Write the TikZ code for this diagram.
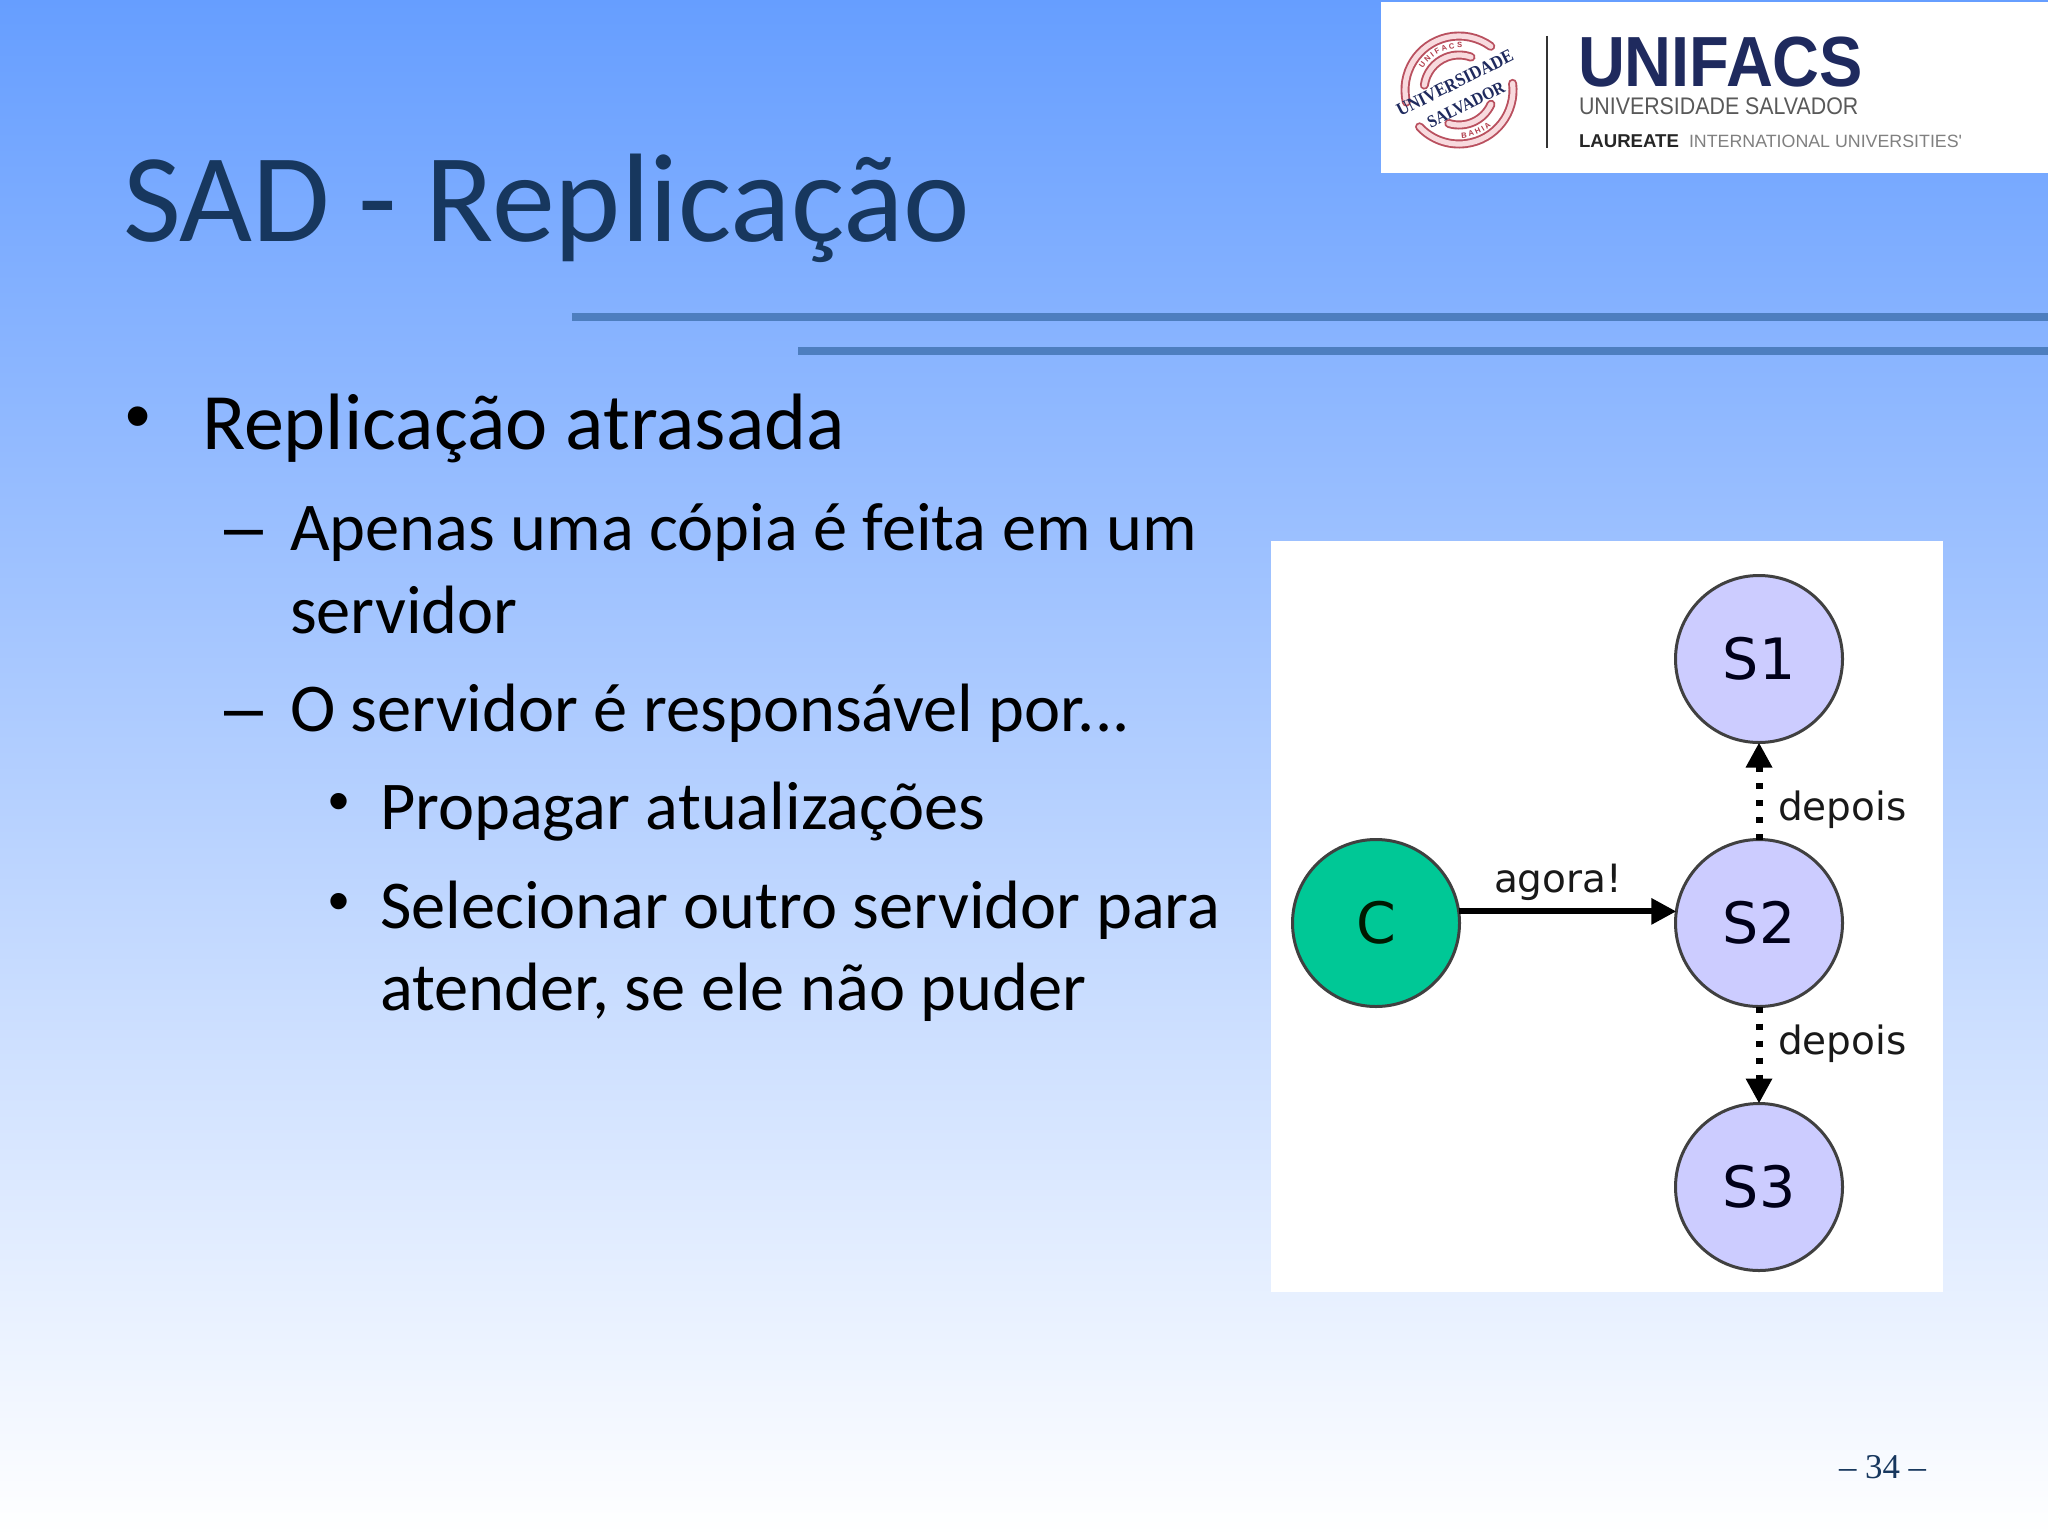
\documentclass[tikz,border=0pt]{standalone}
\usepackage{fontspec}
\usetikzlibrary{arrows.meta,decorations.text}
\setmainfont{Carlito}
\newfontfamily\dejavu{DejaVu Sans}
\newfontfamily\libsans{Liberation Sans}
\newfontfamily\libserif{Liberation Serif}
\newfontfamily\unif[FakeStretch=0.915]{Liberation Sans}
\newfontfamily\unisal[FakeStretch=0.89]{Liberation Sans}
\newfontfamily\sealf[FakeStretch=0.9]{Liberation Serif}
\definecolor{bgtop}{RGB}{102,158,255}
\definecolor{titleblue}{RGB}{23,55,94}
\definecolor{rulecol}{RGB}{77,126,191}
\definecolor{navy}{RGB}{31,42,94}
\definecolor{srvfill}{RGB}{204,204,255}
\definecolor{clifill}{RGB}{0,200,150}
\definecolor{ringred}{RGB}{185,80,95}
\definecolor{ringpink}{RGB}{248,218,222}
\definecolor{sealred}{RGB}{176,58,72}
\tikzset{
  txt/.style={anchor=base west,inner sep=0pt,outer sep=0pt},
  titletext/.style={txt,text=titleblue,font=\fontsize{63}{63}\selectfont},
  lone/.style={txt,text=black,font=\fontsize{40}{40}\selectfont},
  ltwo/.style={txt,text=black,font=\fontsize{34.2}{34.2}\selectfont},
  dashmark/.style={txt,text=black,font=\libsans\fontsize{35}{35}\selectfont},
  bullet/.style={txt,text=black,font=\libsans\fontsize{36}{36}\selectfont},
  bulletsmall/.style={txt,text=black,font=\libsans\fontsize{30}{30}\selectfont},
  rulebar/.style={fill=rulecol,draw=none},
  srv/.style={circle,draw=black!75,line width=1.5pt,fill=srvfill,minimum size=83.5pt,inner sep=0pt,outer sep=0pt,
     font=\dejavu\fontsize{28.5}{28.5}\selectfont,text=black!90!blue},
  cli/.style={srv,fill=clifill,text=black!90!green},
  lab/.style={txt,text=black!90,font=\dejavu\fontsize{19.5}{19.5}\selectfont},
  nowarrow/.style={line width=3pt,-{Triangle[length=12.5pt,width=12.5pt]}},
  lateraarrow/.style={line width=3.5pt,dash pattern=on 3pt off 5.5pt,-{Triangle[length=12.5pt,width=12.5pt]}},
  ring/.style={line cap=round,line width=4.5pt,draw=ringred,postaction={draw=ringpink,line width=2.6pt}},
  sealtxt/.style={inner sep=0pt,rotate=26.5,text=navy},
}
\begin{document}
\begin{tikzpicture}[x=0.5pt,y=-0.5pt]
\useasboundingbox (0,0) rectangle (2048,1536);
\shade[top color=bgtop,bottom color=white] (0,0) rectangle (2048,1536);
% logo
\fill[white] (1381,2) rectangle (2048,173);
\begin{scope}[shift={(1459,90)},y=0.5pt]
  \draw[ring] (193:54) arc[start angle=193,end angle=54,radius=54];
  \draw[ring] (7:54) arc[start angle=7,end angle=-137,radius=54];
  \draw[ring] (172:35) arc[start angle=172,end angle=70,radius=35];
  \draw[ring] (-24:35) arc[start angle=-24,end angle=-107,radius=35];
  \path[decorate,decoration={text along path,text align=center,
     text={|\libsans\bfseries\fontsize{3.8}{3.8}\selectfont\color{sealred}|U N I F A C S}}]
     (160:42) arc[start angle=160,end angle=75,radius=42];
  \path[decorate,decoration={text along path,text align=center,
     text={|\libsans\bfseries\fontsize{3.8}{3.8}\selectfont\color{sealred}|B A H I A}}]
     (-100:48) arc[start angle=-100,end angle=-35,radius=48];
  \node[sealtxt,font=\sealf\bfseries\fontsize{9.2}{9.2}\selectfont] (sealone) at (-4,7) {UNIVERSIDADE};
  \node[sealtxt,font=\sealf\bfseries\fontsize{8.7}{8.7}\selectfont] (sealtwo) at (7,-15) {SALVADOR};
\end{scope}
\draw[black!80,line width=1pt] (1547,36) -- (1547,148);
\node[txt,text=navy,font=\unif\bfseries\fontsize{35.5}{35.5}\selectfont] (unifacs) at (1578,87) {UNIFACS};
\node[txt,text=black!65,font=\unisal\fontsize{12}{12}\selectfont] (unisal) at (1579,114) {UNIVERSIDADE SALVADOR};
\node[txt,text=black!85,font=\libsans\bfseries\fontsize{9.3}{9.3}\selectfont] (laureate) at (1579,147.5) {LAUREATE};
\node[txt,text=black!50,font=\libsans\fontsize{8.9}{8.9}\selectfont] (intl) at (1689,147.5) {INTERNATIONAL UNIVERSITIES'};
% title and rules
\node[titletext] (title) at (123,241) {SAD - Replicação};
\fill[rulebar] (572,313) rectangle (2048,321);
\fill[rulebar] (798,347) rectangle (2048,355);
% body
\node[bullet] (b1) at (125,440) {•};
\node[lone] (t1) at (202,449.5) {Replicação atrasada};
\node[dashmark] (d1) at (224,550) {–};
\node[ltwo] (t2) at (290,550.5) {Apenas uma cópia é feita em um};
\node[ltwo] (t2b) at (290,633.5) {servidor};
\node[dashmark] (d2) at (224,731) {–};
\node[ltwo] (t3) at (290,731.5) {O servidor é responsável por...};
\node[bulletsmall] (b2) at (328,821) {•};
\node[ltwo] (t4) at (380,829.5) {Propagar atualizações};
\node[bulletsmall] (b3) at (328,921) {•};
\node[ltwo] (t5) at (380,928.5) {Selecionar outro servidor para};
\node[ltwo] (t5b) at (380,1010.5) {atender, se ele não puder};
\node[txt,text=titleblue,font=\libserif\fontsize{17.4}{17.4}\selectfont] (page) at (1839,1478) {– 34 –};
% diagram
\fill[white] (1271,541) rectangle (1943,1292);
\node[srv] (S1) at (1759,659) {S1};
\node[srv] (S2) at (1759,923) {S2};
\node[srv] (S3) at (1759,1187) {S3};
\node[cli] (C) at (1376,923) {C};
\draw[nowarrow] (C.8) -- (S2.172);
\draw[lateraarrow] (S2.north) -- (S1.south);
\draw[lateraarrow] (S2.south) -- (S3.north);
\node[lab] (agora) at (1494,892) {agora!};
\node[lab] (dep1) at (1778,820) {depois};
\node[lab] (dep2) at (1778,1054) {depois};
\end{tikzpicture}
\end{document}
